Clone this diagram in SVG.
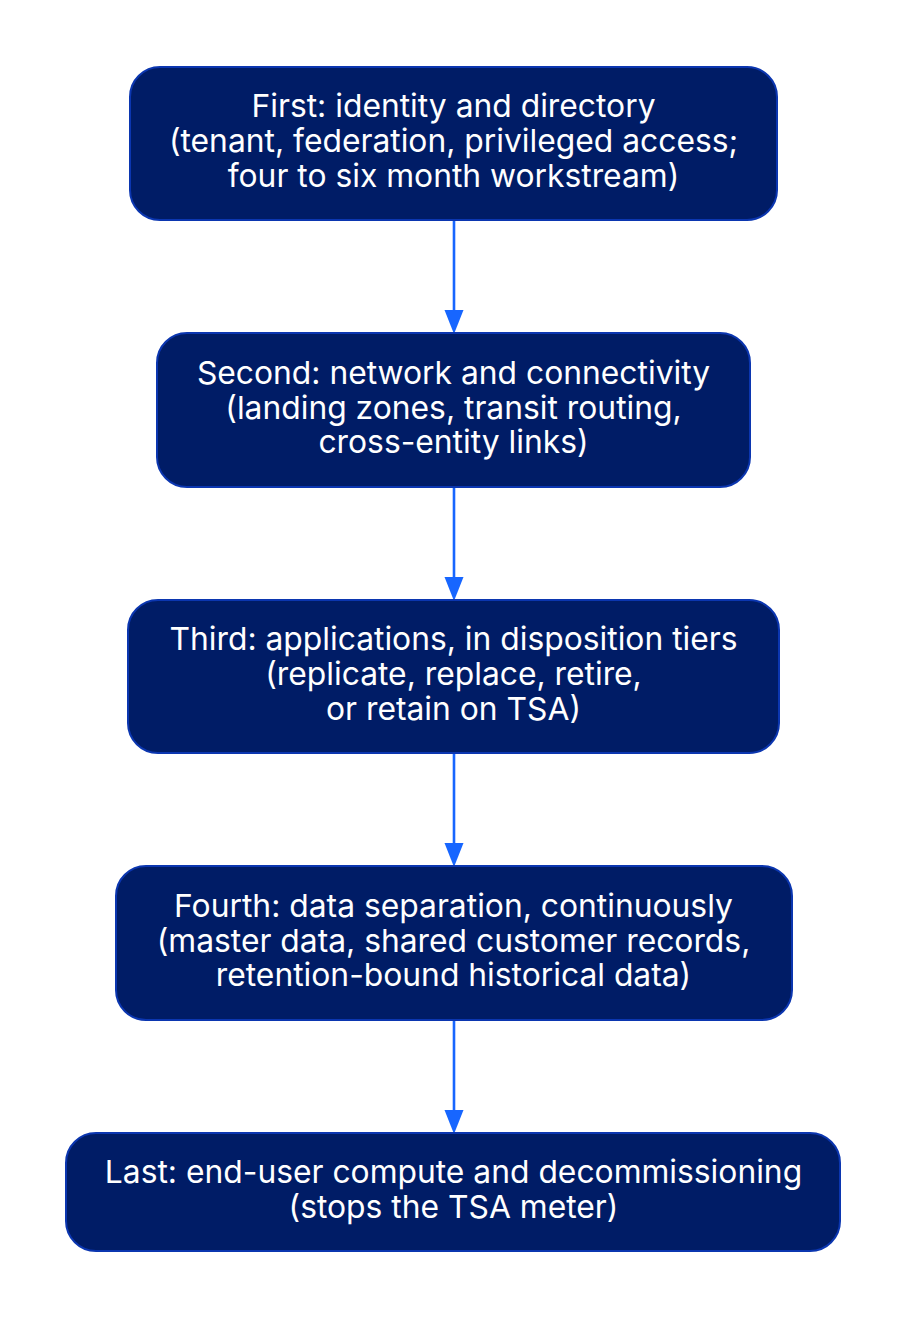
<svg xmlns="http://www.w3.org/2000/svg" width="908" height="1318" viewBox="0 0 908 1318">
<defs>
<style>
.node rect{fill:#001c66;stroke:#0b36b0;stroke-width:2}
.node text{fill:#ffffff;font-family:Inter,"Noto Sans","Liberation Sans",sans-serif;font-size:31.8px;text-anchor:middle}
.edge{stroke:#1766ff;stroke-width:2.6;fill:none}
.head{fill:#1766ff}
</style>
</defs>
<rect width="908" height="1318" fill="#ffffff"/>
<g id="connectors">
<line class="edge" x1="454" y1="221" x2="454" y2="310"/><path class="head" d="M444.5,310 L463.5,310 L454,334 Z"/>
<line class="edge" x1="454" y1="488" x2="454" y2="577"/><path class="head" d="M444.5,577 L463.5,577 L454,601 Z"/>
<line class="edge" x1="454" y1="754" x2="454" y2="843"/><path class="head" d="M444.5,843 L463.5,843 L454,867 Z"/>
<line class="edge" x1="454" y1="1021" x2="454" y2="1110"/><path class="head" d="M444.5,1110 L463.5,1110 L454,1134 Z"/>
</g>
<g id="node1" class="node">
<rect x="130" y="67" width="647" height="153" rx="30" ry="30"/>
<text x="453.5" y="117">First: identity and directory</text>
<text x="453.5" y="152">(tenant, federation, privileged access;</text>
<text x="453.5" y="187">four to six month workstream)</text>
</g>
<g id="node2" class="node">
<rect x="157" y="333" width="593" height="154" rx="30" ry="30"/>
<text x="453.5" y="384">Second: network and connectivity</text>
<text x="453.5" y="419">(landing zones, transit routing,</text>
<text x="453.5" y="453">cross-entity links)</text>
</g>
<g id="node3" class="node">
<rect x="128" y="600" width="651" height="153" rx="30" ry="30"/>
<text x="453.5" y="650">Third: applications, in disposition tiers</text>
<text x="453.5" y="685">(replicate, replace, retire,</text>
<text x="453.5" y="720">or retain on TSA)</text>
</g>
<g id="node4" class="node">
<rect x="116" y="866" width="676" height="154" rx="30" ry="30"/>
<text x="453.5" y="917">Fourth: data separation, continuously</text>
<text x="453.5" y="952">(master data, shared customer records,</text>
<text x="453.5" y="986">retention-bound historical data)</text>
</g>
<g id="node5" class="node">
<rect x="66" y="1133" width="774" height="118" rx="30" ry="30"/>
<text x="453.5" y="1183">Last: end-user compute and decommissioning</text>
<text x="453.5" y="1218">(stops the TSA meter)</text>
</g>
</svg>
